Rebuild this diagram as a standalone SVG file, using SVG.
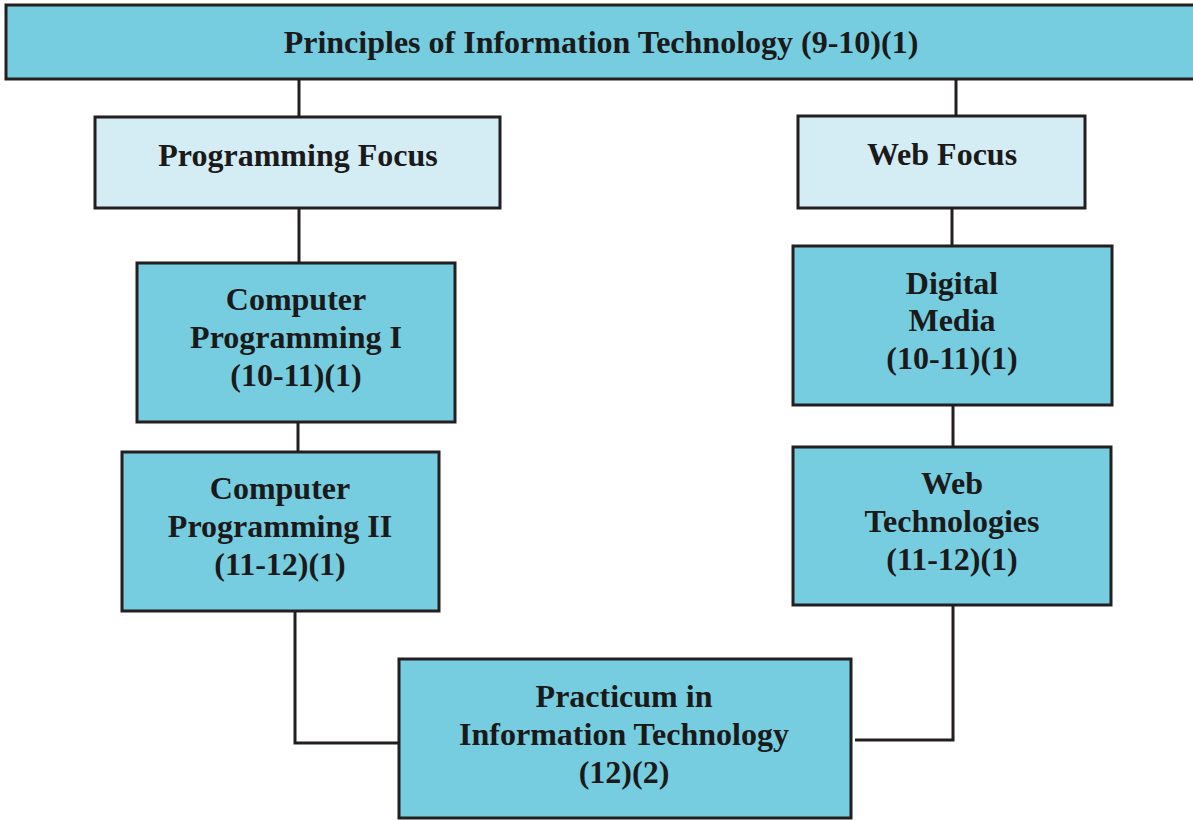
<svg xmlns="http://www.w3.org/2000/svg" width="1193" height="820" viewBox="0 0 1193 820">
<style>
.box{fill:#76cddf;stroke:#231f20;stroke-width:3}
.lbox{fill:#d4ecf3;stroke:#231f20;stroke-width:3}
.t{font-family:"Liberation Serif","Times New Roman",serif;font-weight:bold;font-size:32px;fill:#1a1a1a;text-anchor:middle}
.c{fill:none;stroke:#231f20;stroke-width:3}
</style>
<rect width="1193" height="820" fill="#ffffff"/>
<g id="connectors">
<line class="c" x1="299" y1="79" x2="299" y2="117"/>
<line class="c" x1="956" y1="79" x2="956" y2="116"/>
<line class="c" x1="299" y1="208" x2="299" y2="263"/>
<line class="c" x1="952" y1="208" x2="952" y2="246"/>
<line class="c" x1="298" y1="422" x2="298" y2="452"/>
<line class="c" x1="953" y1="405" x2="953" y2="447"/>
<polyline class="c" points="295,611 295,743 399,743"/>
<polyline class="c" points="953,605 953,740 855,740"/>
</g>
<g id="principles">
<rect class="box" x="6" y="5" width="1192" height="74"/>
<text class="t" x="601" y="53">Principles of Information Technology (9-10)(1)</text>
</g>
<g id="programming-focus">
<rect class="lbox" x="95" y="117" width="405" height="91"/>
<text class="t" x="298" y="166">Programming Focus</text>
</g>
<g id="web-focus">
<rect class="lbox" x="798" y="116" width="287" height="92"/>
<text class="t" x="942" y="165">Web Focus</text>
</g>
<g id="computer-programming-1">
<rect class="box" x="137" y="263" width="318" height="159"/>
<text class="t" x="296" y="310">Computer</text>
<text class="t" x="296" y="348">Programming I</text>
<text class="t" x="296" y="386">(10-11)(1)</text>
</g>
<g id="digital-media">
<rect class="box" x="793" y="246" width="319" height="159"/>
<text class="t" x="952" y="294">Digital</text>
<text class="t" x="952" y="331">Media</text>
<text class="t" x="952" y="369">(10-11)(1)</text>
</g>
<g id="computer-programming-2">
<rect class="box" x="122" y="452" width="317" height="159"/>
<text class="t" x="280" y="499">Computer</text>
<text class="t" x="280" y="537">Programming II</text>
<text class="t" x="280" y="575">(11-12)(1)</text>
</g>
<g id="web-technologies">
<rect class="box" x="793" y="447" width="318" height="158"/>
<text class="t" x="952" y="494">Web</text>
<text class="t" x="952" y="532">Technologies</text>
<text class="t" x="952" y="570">(11-12)(1)</text>
</g>
<g id="practicum">
<rect class="box" x="399" y="659" width="452" height="159"/>
<text class="t" x="624" y="707">Practicum in</text>
<text class="t" x="624" y="745">Information Technology</text>
<text class="t" x="624" y="783">(12)(2)</text>
</g>
</svg>
